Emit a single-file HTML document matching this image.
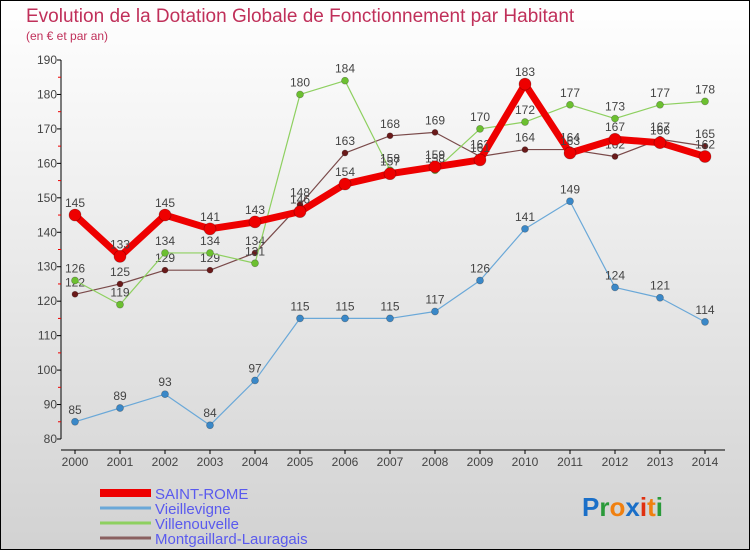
<!DOCTYPE html>
<html><head><meta charset="utf-8"><style>
body{margin:0;}
#wrap{position:relative;width:750px;height:550px;overflow:hidden;}
svg text{font-family:"Liberation Sans",sans-serif;}
</style></head><body>
<div id="wrap">
<svg id="chart" width="750" height="550" xmlns="http://www.w3.org/2000/svg">
<defs><linearGradient id="bg" x1="0" y1="0" x2="0" y2="1"><stop offset="0" stop-color="#ffffff"/><stop offset="1" stop-color="#d2d2d2"/></linearGradient></defs>
<rect x="0.5" y="0.5" width="749" height="549" fill="url(#bg)" stroke="#000"/>
<text x="26" y="22" font-size="19" fill="#c0305a">Evolution de la Dotation Globale de Fonctionnement par Habitant</text>
<text x="26" y="40" font-size="12" fill="#c0305a">(en € et par an)</text>
<g id="axes"></g><g id="series"></g><g id="legend"></g>
<text x="582" y="516" font-size="26" font-weight="bold"><tspan fill="#1a6fc8">P</tspan><tspan fill="#2a9a3a">r</tspan><tspan fill="#f08010">o</tspan><tspan fill="#1a6fc8">x</tspan><tspan fill="#e03010">i</tspan><tspan fill="#f08010">t</tspan><tspan fill="#2a9a3a">i</tspan></text>
</svg>
</div>
<script>
const years=[2000,2001,2002,2003,2004,2005,2006,2007,2008,2009,2010,2011,2012,2013,2014];
const yTicks=[80,90,100,110,120,130,140,150,160,170,180,190];
const saintRome=[145,133,145,141,143,146,154,157,159,161,183,163,167,166,162];
const vieillevigne=[85,89,93,84,97,115,115,115,117,126,141,149,124,121,114];
const villenouvelle=[126,119,134,134,131,180,184,158,158,170,172,177,173,177,178];
const montgaillard=[122,125,129,129,134,148,163,168,169,162,164,164,162,167,165];
const seriesNames=["SAINT-ROME","Vieillevigne","Villenouvelle","Montgaillard-Lauragais"];
const NS="http://www.w3.org/2000/svg";
function xs(i){return 75+i*45;}
function ys(v){return 439-(v-80)*(379/110);}
function mk(tag,attrs,parent){const e=document.createElementNS(NS,tag);for(const k in attrs)e.setAttribute(k,attrs[k]);parent.appendChild(e);return e;}
const axes=document.getElementById('axes');
let ya=mk('line',{x1:61,y1:60,x2:61,y2:439,stroke:'#000','stroke-width':1},axes);


yTicks.forEach((t,i)=>{
 const y=ys(t);
 const tk=mk('line',{x1:57,y1:y,x2:61,y2:y,stroke:'#000'},axes);
 
 
 const tx=mk('text',{x:57,y:y+4,'text-anchor':'end','font-size':12,fill:'#444'},axes);
 tx.textContent=t;
 
 
 if(i<yTicks.length-1){const m=mk('line',{x1:58,y1:ys(t+5),x2:61,y2:ys(t+5),stroke:'#e00'},axes);
 
 }
});
let xa=mk('line',{x1:61,y1:450,x2:725,y2:450,stroke:'#000'},axes);


years.forEach((yr,i)=>{
 const x=xs(i);
 const tk=mk('line',{x1:x,y1:450,x2:x,y2:454,stroke:'#000'},axes);
 
 
 const tx=mk('text',{x:x,y:466,'text-anchor':'middle','font-size':12,fill:'#444'},axes);
 tx.textContent=yr;
 
 
});
const sg=document.getElementById('series');
const defs=[
 {d:montgaillard,c:'#7a4a4a',dot:'#6a1a1a',w:1.2,r:3,name:'series-montgaillard'},
 {d:villenouvelle,c:'#8ed060',dot:'#6cc030',w:1.2,r:3.5,name:'series-villenouvelle'},
 {d:vieillevigne,c:'#6aa8d8',dot:'#3a88c8',w:1.2,r:3.5,name:'series-vieillevigne'},
 {d:saintRome,c:'#ee0000',dot:'#ee0000',w:7,r:6,name:'series-saint-rome'}];
defs.forEach(s=>{
 const g=mk('g',{},sg);
 
 
 const pts=s.d.map((v,i)=>xs(i)+','+ys(v)).join(' ');
 const pl=mk('polyline',{points:pts,fill:'none',stroke:s.c,'stroke-width':s.w,'stroke-linejoin':'round'},g);
 
 
 s.d.forEach((v,i)=>{
  const c=mk('circle',{cx:xs(i),cy:ys(v),r:s.r,fill:s.dot,stroke:'rgba(0,0,0,0.3)','stroke-width':0.7},g);
  
  
  const t=mk('text',{x:xs(i),y:ys(v)-8,'text-anchor':'middle','font-size':12,fill:'#444'},g);
  t.textContent=v;
  
  
 });
});
const lg=document.getElementById('legend');
const lcols=['#ee0000','#6aa8d8','#8ed060','#8a6060'];
const lw=[8,3,3,3];
seriesNames.forEach((n,i)=>{
 const y=493+i*15;
 const g=mk('g',{},lg);
 
 
 mk('line',{x1:100,y1:y,x2:151,y2:y,stroke:lcols[i],'stroke-width':lw[i]},g);
 const t=mk('text',{x:155,y:y+6,'font-size':15,fill:'#5a5aee'},g);
 t.textContent=n;
});
</script>
</body></html>
